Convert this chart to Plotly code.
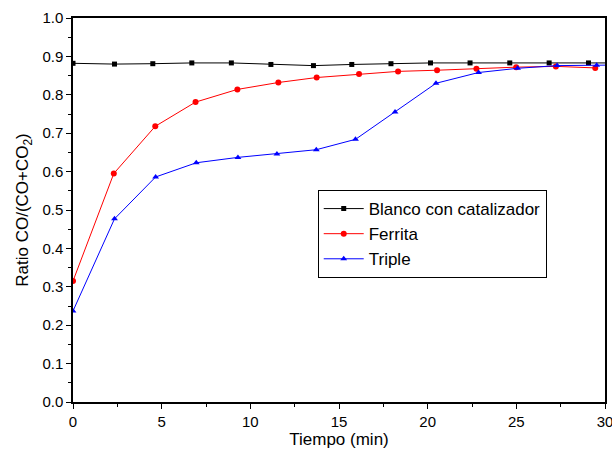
import plotly.graph_objects as go

# Data
x_blanco = [0, 2.34, 4.5, 6.7, 8.93, 11.16, 13.56, 15.72, 17.93, 20.16, 22.39, 24.63, 26.85, 29.07, 31.3]
y_blanco = [0.882, 0.880, 0.881, 0.883, 0.883, 0.879, 0.876, 0.879, 0.881, 0.883, 0.883, 0.883, 0.883, 0.883, 0.883]

x_ferrita = [0, 2.30, 4.64, 6.91, 9.27, 11.58, 13.74, 16.13, 18.33, 20.53, 22.75, 24.99, 27.23, 29.45]
y_ferrita = [0.315, 0.595, 0.718, 0.781, 0.814, 0.832, 0.845, 0.854, 0.861, 0.864, 0.868, 0.872, 0.874, 0.870]

x_triple = [0, 2.34, 4.66, 6.95, 9.3, 11.5, 13.72, 15.93, 18.16, 20.47, 22.87, 25.07, 27.3, 29.53, 31.7]
y_triple = [0.237, 0.477, 0.586, 0.623, 0.637, 0.646, 0.657, 0.684, 0.755, 0.830, 0.858, 0.869, 0.876, 0.877, 0.878]

names = ["Blanco con catalizador", "Ferrita", "Triple"]
x_title = "Tiempo (min)"
y_title = "Ratio CO/(CO+CO<sub>2</sub>)"

fig = go.Figure()
fig.add_trace(go.Scatter(x=x_blanco, y=y_blanco, name=names[0], mode="lines+markers",
                         line=dict(color="black", width=1),
                         marker=dict(symbol="square", size=5, color="black")))
fig.add_trace(go.Scatter(x=x_ferrita, y=y_ferrita, name=names[1], mode="lines+markers",
                         line=dict(color="#ff0000", width=1),
                         marker=dict(symbol="circle", size=6, color="#ff0000")))
fig.add_trace(go.Scatter(x=x_triple, y=y_triple, name=names[2], mode="lines+markers",
                         line=dict(color="#0000ff", width=1),
                         marker=dict(symbol="triangle-up", size=6, color="#0000ff")))

font = dict(family="Liberation Sans, Arial, sans-serif", color="black")

fig.update_layout(
    width=612, height=449,
    margin=dict(l=73, r=7, t=18, b=47),
    paper_bgcolor="white", plot_bgcolor="white",
    font=dict(**font, size=15),
    showlegend=True,
    legend=dict(x=0.46, y=0.552, xanchor="left", yanchor="top",
                bordercolor="black", borderwidth=1, bgcolor="white",
                font=dict(**font, size=17), tracegroupgap=0,
                itemwidth=40),
    xaxis=dict(range=[0, 30], tickmode="linear", tick0=0, dtick=5,
               automargin=False, ticklabeloverflow="allow",
               showgrid=False, zeroline=False,
               showline=True, linecolor="black", linewidth=1.5, mirror=True,
               ticks="outside", ticklen=5, tickwidth=1, tickcolor="black",
               minor=dict(dtick=2.5, ticks="outside", ticklen=3, tickcolor="black"),
               title=dict(text=x_title, font=dict(**font, size=17), standoff=2),
               tickfont=dict(**font, size=15)),
    yaxis=dict(range=[0, 1.0], tickmode="linear", tick0=0, dtick=0.1,
               tickformat=".1f", automargin=False, ticklabeloverflow="allow",
               showgrid=False, zeroline=False,
               showline=True, linecolor="black", linewidth=1.5, mirror=True,
               ticks="outside", ticklen=5, tickwidth=1, tickcolor="black",
               minor=dict(dtick=0.05, ticks="outside", ticklen=3, tickcolor="black"),
               title=dict(text=y_title, font=dict(**font, size=17), standoff=9),
               tickfont=dict(**font, size=15)),
)

fig.write_html("out.html")
